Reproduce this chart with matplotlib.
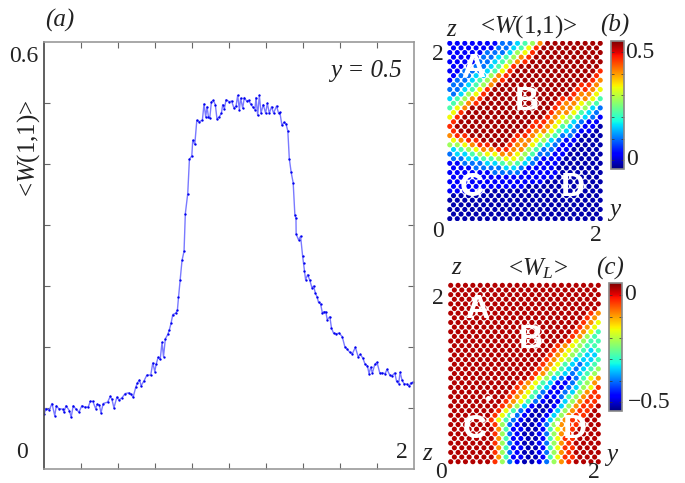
#recreate the three panel figure: profile of <W(1,1)> and two dot maps
import numpy as np
import matplotlib
matplotlib.use('Agg')
import matplotlib.pyplot as plt

plt.rcParams['font.family'] = ['Liberation Serif', 'DejaVu Serif']
plt.rcParams['mathtext.fontset'] = 'custom'
plt.rcParams['mathtext.rm'] = 'Liberation Serif'
plt.rcParams['mathtext.it'] = 'Liberation Serif:italic'

#panel (a), profile along z at y = 0.5
z_a = [0.000,0.011,0.029,0.043,0.058,0.067,0.079,0.101,0.108,0.119,0.137,0.147,0.158,0.173,0.189,0.205,
       0.219,0.239,0.250,0.264,0.279,0.288,0.299,0.308,0.320,0.344,0.358,0.367,0.378,0.394,0.405,0.421,
       0.439,0.457,0.469,0.482,0.496,0.505,0.516,0.525,0.541,0.556,0.577,0.588,0.599,0.606,0.617,0.628,
       0.638,0.646,0.656,0.669,0.678,0.687,0.696,0.712,0.721,0.727,0.736,0.746,0.757,0.764,0.777,0.786,
       0.799,0.804,0.815,0.826,0.838,0.856,0.865,0.874,0.881,0.889,0.896,0.905,0.915,0.926,0.935,0.948,
       0.959,0.966,0.975,0.984,1.002,1.014,1.027,1.038,1.047,1.056,1.063,1.074,1.083,1.095,1.106,1.117,
       1.128,1.140,1.146,1.155,1.164,1.173,1.185,1.198,1.207,1.218,1.230,1.241,1.257,1.268,1.275,1.286,
       1.297,1.308,1.318,1.326,1.336,1.347,1.356,1.362,1.363,1.376,1.387,1.398,1.403,1.408,1.414,1.425,
       1.437,1.448,1.457,1.466,1.477,1.484,1.495,1.505,1.513,1.523,1.531,1.545,1.554,1.565,1.581,1.595,
       1.612,1.626,1.640,1.653,1.667,1.683,1.698,1.710,1.723,1.736,1.748,1.757,1.766,1.775,1.788,1.800,
       1.815,1.829,1.844,1.854,1.869,1.881,1.896,1.906,1.917,1.925,1.935,1.946,1.962,1.975,1.982,1.996]
w_a = [0.077,0.085,0.083,0.092,0.075,0.089,0.085,0.084,0.080,0.089,0.082,0.073,0.089,0.084,0.080,0.089,
       0.087,0.087,0.095,0.095,0.085,0.091,0.090,0.079,0.092,0.094,0.102,0.098,0.086,0.101,0.097,0.100,
       0.106,0.107,0.105,0.101,0.115,0.121,0.125,0.117,0.124,0.132,0.132,0.149,0.137,0.147,0.157,0.154,
       0.178,0.158,0.183,0.189,0.196,0.205,0.217,0.219,0.223,0.241,0.265,0.293,0.306,0.359,0.387,0.435,
       0.440,0.462,0.456,0.490,0.488,0.490,0.513,0.495,0.509,0.495,0.493,0.516,0.518,0.512,0.492,0.495,
       0.500,0.512,0.506,0.519,0.516,0.517,0.507,0.510,0.525,0.505,0.521,0.507,0.522,0.517,0.518,0.513,
       0.509,0.505,0.522,0.497,0.525,0.500,0.512,0.500,0.514,0.500,0.509,0.500,0.510,0.500,0.501,0.483,
       0.487,0.485,0.475,0.436,0.417,0.402,0.357,0.352,0.330,0.322,0.327,0.299,0.289,0.278,0.266,0.273,
       0.265,0.255,0.257,0.248,0.241,0.234,0.232,0.219,0.221,0.221,0.210,0.214,0.198,0.191,0.190,0.191,
       0.186,0.172,0.168,0.164,0.162,0.171,0.158,0.161,0.156,0.147,0.145,0.134,0.143,0.135,0.147,0.150,
       0.135,0.135,0.134,0.140,0.132,0.131,0.135,0.123,0.120,0.136,0.125,0.120,0.119,0.116,0.121,0.122]

#dot maps, one colour level per dot, read row by row from the top, rows are staggered
levels_b = [
 "111111122345799999999",
 "11111122346899999999",
 "111112223568999999999",
 "11112234578999999999",
 "111122345789999999999",
 "11122346899999999999",
 "112223468999999999998",
 "12233578999999999998",
 "122345789999999999987",
 "22345799999999999887",
 "223468999999999998876",
 "23568999999999998776",
 "345789999999999887764",
 "45789999999999877654",
 "467999999999998776532",
 "68999999999998776432",
 "689999999999987654321",
 "89999999999887653211",
 "899999999998876432110",
 "89999999998776432110",
 "788999999887654221000",
 "67889999877653211000",
 "556788998776432110000",
 "34567788775422110000",
 "233456677654221100000",
 "22334456653211100000",
 "112223345432111000000",
 "11122223321111000000",
 "111111222211111000000",
 "11111111111111000000",
 "111111111111100000000",
 "11111111110000000000",
 "111110000000000000000",
 "00000000000000000000",
 "000000000000000000000",
 "00000000000000000000",
 "000000000000000000000",
 "00000000000000000000",
 "000000000000000000000",
]
levels_c = [
 "999999999999999999999",
 "99999999999999999999",
 "999999999999999999999",
 "99999999999999999999",
 "999999999999999999999",
 "99999999999999999999",
 "999999999999999999987",
 "99999999999999999987",
 "999999999999999999876",
 "99999999999999999876",
 "999999999999999998764",
 "99999999999999998754",
 "999999999999999986544",
 "99999999999999876544",
 "999999999999998765434",
 "99999999999998765433",
 "999999999999987653334",
 "99999999999987643234",
 "999999999999876432345",
 "99999999999875432345",
 "999999999998653212467",
 "99999999987643112457",
 "999999999876431123568",
 "99999999876421123578",
 "999999998764211245788",
 "99999998764210135788",
 "999999987531001357889",
 "99999986421001357889",
 "999999864210013578899",
 "99999864210013578899",
 "999999852100125788999",
 "99999974110014678999",
 "999999852100125789999",
 "99999974110014688999",
 "999999852100125789999",
 "99999974110014688999",
 "999999852100125789999",
 "99999974110014688999",
 "999999852100125789999",
]
#map value belonging to each level
values_b = [-0.015, 0.03, 0.10, 0.16, 0.22, 0.28, 0.34, 0.41, 0.47, 0.53]
values_c = [-0.51, -0.47, -0.40, -0.34, -0.28, -0.22, -0.16, -0.09, -0.03, 0.03]
range_b = (-0.04, 0.55)
range_c = (-0.54, 0.056)

#places in panel (c) where a dot is missing
gap_y = [0.531, 0.834, 1.417]
gap_z = [0.745, 0.554, 0.461]

W, H = 685.0, 483.0

#axes from pixel box of the reference
def box(x0, y0, x1, y1):
    return [x0/W, 1-y1/H, (x1-x0)/W, (y1-y0)/H]

def label(x, y, s, size=16, style='normal', **kw):
    fig.text(x/W, 1-y/H, s, fontsize=size, style=style, ha='center', va='center', color='#222222', **kw)

#scatter one dot map
def dot_map(ax, rows, values, limits, shift):
    ys, xs, cs = [], [], []
    for i, row in enumerate(rows):
        for j, ch in enumerate(row):
            xs.append(2*(j+0.5+0.5*(i % 2))/21)
            ys.append(2-2*(i+shift)/39)
            cs.append(values[int(ch)])
    ax.scatter(xs, ys, c=cs, s=13.5, cmap='jet', vmin=limits[0], vmax=limits[1], linewidths=0, clip_on=shift > 0.4)
    ax.set_xlim(0, 2)
    ax.set_ylim(0, 2)
    ax.axis('off')

def color_bar(cax, limits, ticks):
    sm = plt.cm.ScalarMappable(norm=plt.Normalize(*limits), cmap='jet')
    cb = fig.colorbar(sm, cax=cax)
    cb.set_ticks(ticks)
    cb.set_ticklabels([])
    cb.ax.tick_params(length=2, width=0.5, direction='in', color='#333333', left=True, right=True)
    cb.outline.set_edgecolor('#888888')
    cb.outline.set_linewidth(1.2)

fig = plt.figure(figsize=(6.85, 4.83), dpi=100)

#panel (a)
ax = fig.add_axes(box(44, 42, 414, 469))
ax.plot(z_a, w_a, '-', color='#7a7aff', lw=1.0)
ax.plot(z_a, w_a, '.', color='#0000ee', ms=3.4, mew=0)
ax.set_xlim(0, 2)
ax.set_ylim(0, 0.6)
ax.set_xticks(np.arange(1, 10)*0.2)
ax.set_yticks(np.arange(1, 7)*0.6/7)
ax.set_xticklabels([])
ax.set_yticklabels([])
ax.tick_params(direction='in', length=4, width=0.8, color='#666666', top=True, right=True)
for s in ['top', 'right', 'bottom']:
    ax.spines[s].set_color('#999999')
    ax.spines[s].set_linewidth(1.2)
ax.spines['left'].set_color('#444444')
ax.spines['left'].set_linewidth(1.2)

label(60, 20, '(a)', style='italic', size=18)
label(366, 71, 'y = 0.5', style='italic', size=18)
label(29, 148, r'<$W$(1,1)>', size=18, rotation=90)
label(24, 57, '0.6', size=17)
label(22, 453, '0', size=17)
label(402, 452, '2', size=17)
label(427, 454, 'z', style='italic', size=18)

#panel (b)
ax_b = fig.add_axes(box(446, 41, 604, 221))
dot_map(ax_b, levels_b, values_b, range_b, 0.5)
color_bar(fig.add_axes(box(611, 41, 624, 169)), range_b, np.arange(0, 6)*0.1)
label(451, 30, 'z', style='italic', size=18)
label(529, 27, r'<$W$(1,1)>', size=18)
label(615, 25, '(b)', style='italic', size=18)
label(438, 55, '2', size=17)
label(438, 232, '0', size=17)
label(596, 235, '2', size=17)
label(615, 210, 'y', style='italic', size=18)
label(640, 53, '0.5', size=17)
label(632, 159, '0', size=17)

#panel (c)
ax_c = fig.add_axes(box(447, 284, 602, 465))
dot_map(ax_c, levels_c, values_c, range_c, 0.29)
ax_c.scatter(gap_y, gap_z, s=13.5, color='white', linewidths=0)
color_bar(fig.add_axes(box(609, 283, 622, 411)), range_c, np.arange(-5, 1)*0.1)
label(456, 268, 'z', style='italic', size=18)
label(538, 269, r'<$W_L$>', size=18)
label(610, 268, '(c)', style='italic', size=18)
label(438, 298, '2', size=17)
label(441, 473, '0', size=17)
label(594, 473, '2', size=17)
label(612, 455, 'y', style='italic', size=18)
label(630, 295, '0', size=17)
label(649, 402, '\u22120.5', size=17)

#white region letters
for x, y, s in [(473, 69, 'A'), (527, 102, 'B'), (472, 188, 'C'), (573, 188, 'D'),
                (477, 310, 'A'), (531, 340, 'B'), (475, 429, 'C'), (575, 429, 'D')]:
    fig.text(x/W, 1-y/H, s, fontsize=24, family='Liberation Sans', weight='bold', color='white',
             ha='center', va='center')

fig.savefig('out.png', dpi=100)
